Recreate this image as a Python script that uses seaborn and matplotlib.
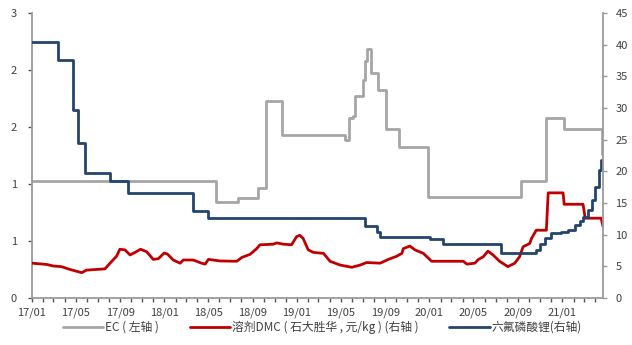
import matplotlib
matplotlib.use("Agg")
import matplotlib.pyplot as plt
import matplotlib.dates as mdates
from matplotlib.ticker import FixedLocator, FuncFormatter
import pandas as pd
import seaborn as sns

# EC price (left axis), step changes
ec_dates = ["2017-01-01", "2018-05-22", "2018-07-23", "2018-09-16", "2018-10-09",
            "2018-11-21", "2019-05-12", "2019-05-23", "2019-06-03", "2019-06-10",
            "2019-07-01", "2019-07-08", "2019-07-14", "2019-07-24", "2019-08-13",
            "2019-09-02", "2019-10-09", "2019-12-29", "2020-09-09", "2020-11-17",
            "2021-01-05", "2021-04-19", "2021-04-23"]
ec_values = [1.235, 1.01, 1.056, 1.155, 2.07,
             1.716, 1.66, 1.89, 1.92, 2.13,
             2.30, 2.50, 2.62, 2.37, 2.19,
             1.78, 1.59, 1.06, 1.235, 1.89,
             1.776, 1.52, 1.52]

# DMC solvent price (right axis)
dmc_dates = ["2017-01-01", "2017-02-10", "2017-03-01", "2017-03-23", "2017-04-16",
             "2017-05-18", "2017-05-31", "2017-07-21", "2017-08-04", "2017-08-22",
             "2017-08-31", "2017-09-14", "2017-09-28", "2017-10-12", "2017-10-27",
             "2017-11-13", "2017-12-01", "2017-12-15", "2017-12-31", "2018-01-09",
             "2018-01-25", "2018-02-13", "2018-02-22", "2018-03-21", "2018-04-13",
             "2018-04-23", "2018-05-02", "2018-06-03", "2018-07-19", "2018-08-02",
             "2018-08-25", "2018-09-12", "2018-09-21", "2018-10-28", "2018-11-06",
             "2018-11-24", "2018-12-17", "2018-12-31", "2019-01-09", "2019-01-18",
             "2019-02-01", "2019-02-15", "2019-03-15", "2019-04-02", "2019-04-30",
             "2019-06-01", "2019-06-24", "2019-07-12", "2019-08-18", "2019-09-10",
             "2019-10-03", "2019-10-17", "2019-10-21", "2019-11-08", "2019-11-22",
             "2019-12-15", "2019-12-25", "2020-01-07", "2020-04-03", "2020-04-13",
             "2020-05-05", "2020-05-15", "2020-05-28", "2020-06-10", "2020-06-24",
             "2020-07-12", "2020-08-04", "2020-08-23", "2020-09-05", "2020-09-15",
             "2020-10-03", "2020-10-08", "2020-10-21", "2020-11-18", "2020-11-23",
             "2021-01-03", "2021-01-06", "2021-02-27", "2021-03-05", "2021-04-18",
             "2021-04-23"]
dmc_values = [5.5, 5.3, 5.05, 4.95, 4.5,
              4.0, 4.4, 4.6, 5.5, 6.6,
              7.7, 7.6, 6.8, 7.2, 7.7,
              7.3, 6.1, 6.2, 7.1, 6.95,
              6.0, 5.5, 6.0, 6.0, 5.5,
              5.35, 6.1, 5.85, 5.8, 6.4,
              6.9, 7.8, 8.4, 8.5, 8.7,
              8.5, 8.4, 9.7, 9.9, 9.4,
              7.6, 7.2, 7.05, 5.8, 5.2,
              4.85, 5.2, 5.6, 5.5, 6.1,
              6.6, 7.05, 7.8, 8.2, 7.6,
              7.05, 6.5, 5.8, 5.8, 5.35,
              5.5, 6.1, 6.5, 7.4, 6.8,
              5.8, 4.95, 5.5, 6.5, 8.1,
              8.6, 9.4, 10.7, 10.7, 16.6,
              16.6, 14.8, 14.8, 12.6, 12.6,
              11.3]

# LiPF6 price (right axis), step changes
lipf6_dates = ["2017-01-01", "2017-03-15", "2017-04-24", "2017-05-09", "2017-05-27",
               "2017-08-03", "2017-09-22", "2018-03-21", "2018-05-02", "2019-07-08",
               "2019-08-09", "2019-08-18", "2020-01-03", "2020-02-06", "2020-07-15",
               "2020-10-21", "2020-10-31", "2020-11-13", "2020-12-02", "2020-12-29",
               "2021-01-17", "2021-02-04", "2021-02-18", "2021-02-27", "2021-03-13",
               "2021-03-24", "2021-04-02", "2021-04-11", "2021-04-17", "2021-04-23"]
lipf6_values = [40.4, 37.6, 29.7, 24.5, 19.8,
                18.5, 16.6, 13.8, 12.7, 11.3,
                10.5, 9.7, 9.3, 8.6, 7.1,
                7.6, 8.6, 9.4, 10.2, 10.5,
                10.8, 11.5, 12.1, 12.8, 13.9,
                15.5, 17.6, 20.2, 21.8, 21.8]

legend_labels = ["EC ( 左轴 )", "溶剂DMC ( 石大胜华 , 元/kg ) (右轴 )", "六氟磷酸锂(右轴)"]
left_ticks = [0, 0.6, 1.2, 1.8, 2.4, 3.0]
right_ticks = [0, 5, 10, 15, 20, 25, 30, 35, 40, 45]
x_start, x_end = "2017-01-01", "2021-04-23"

GRAY = "#a6a6a6"
RED = "#c00000"
NAVY = "#24446e"
SPINE = "#9a9a9a"
TEXT = "#404040"

sns.set_theme(style="white")
plt.rcParams["font.family"] = ["Noto Sans CJK SC", "DejaVu Sans"]

ec = pd.DataFrame({"date": pd.to_datetime(ec_dates), "value": ec_values})
dmc = pd.DataFrame({"date": pd.to_datetime(dmc_dates), "value": dmc_values})
lipf6 = pd.DataFrame({"date": pd.to_datetime(lipf6_dates), "value": lipf6_values})

fig = plt.figure(figsize=(6.32, 3.45), dpi=100)
ax = fig.add_axes([32 / 632, 47 / 345, 571 / 632, 285 / 345])
ax2 = ax.twinx()

sns.lineplot(data=ec, x="date", y="value", ax=ax, color=GRAY, linewidth=2.0,
             drawstyle="steps-post", estimator=None, label=legend_labels[0], legend=False)
sns.lineplot(data=dmc, x="date", y="value", ax=ax2, color=RED, linewidth=2.0,
             estimator=None, label=legend_labels[1], legend=False)
sns.lineplot(data=lipf6, x="date", y="value", ax=ax2, color=NAVY, linewidth=2.0,
             drawstyle="steps-post", estimator=None, label=legend_labels[2], legend=False)

ax.set_xlim(pd.Timestamp(x_start), pd.Timestamp(x_end))
ax.set_ylim(0, 3)
ax2.set_ylim(0, 45)
for a in (ax, ax2):
    a.set_xlabel("")
    a.set_ylabel("")

ax.yaxis.set_major_locator(FixedLocator(left_ticks))
ax.yaxis.set_major_formatter(FuncFormatter(lambda v, p: f"{v:.0f}"))
ax2.yaxis.set_major_locator(FixedLocator(right_ticks))

ax.xaxis.set_major_locator(mdates.MonthLocator(bymonth=[1, 5, 9]))
ax.xaxis.set_minor_locator(mdates.MonthLocator())
ax.xaxis.set_major_formatter(mdates.DateFormatter("%y/%m"))

for a in (ax, ax2):
    for side in ("left", "right", "bottom"):
        a.spines[side].set_color(SPINE)
        a.spines[side].set_linewidth(1.3)
    a.spines["top"].set_visible(False)
ax.spines["right"].set_visible(False)
ax2.spines["left"].set_visible(False)
ax2.spines["bottom"].set_visible(False)

ax.tick_params(axis="y", which="major", left=True, direction="out", length=3,
               width=1, color="#555555", labelsize=8, labelcolor=TEXT, pad=8)
ax2.tick_params(axis="y", which="major", right=True, direction="out", length=3,
                width=1, color=SPINE, labelsize=8, labelcolor=TEXT, pad=6)
ax.tick_params(axis="x", which="both", bottom=True, direction="out", length=3,
               width=1, color="#555555")
ax.tick_params(axis="x", which="major", labelsize=8, labelcolor=TEXT, pad=4)

handles = ax.get_lines()[:1] + ax2.get_lines()[:2]
fig.legend(handles, legend_labels, loc="center", bbox_to_anchor=(0.51, 0.052),
           ncol=3, frameon=False, fontsize=8.5, handlelength=3.4, handletextpad=0.2,
           columnspacing=2.6, labelcolor=TEXT)

fig.savefig("out.png", dpi=100)
